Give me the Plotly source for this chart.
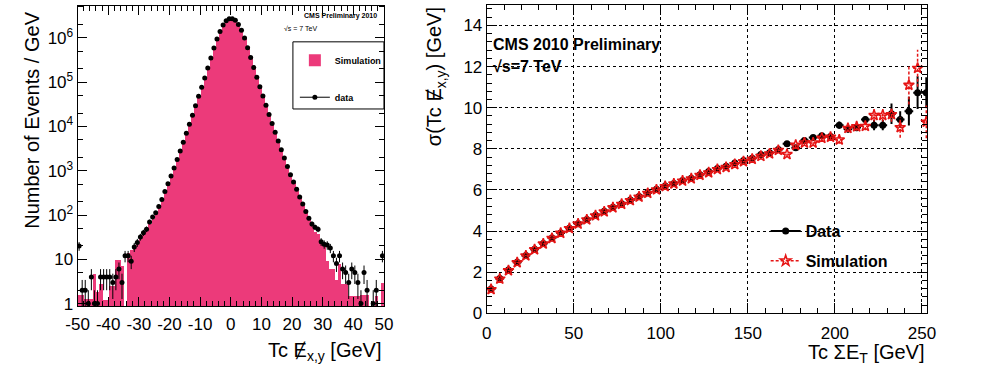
import math
import plotly.graph_objects as go

# ---------------- Left panel: Tc MET_x,y distribution (1 GeV bins) ----------------
met_bins = [-49.5 + i for i in range(100)]

data_counts = [
    20, 2, 2, 1, 4, 1, 1, 4, 4, 4,
    4, 3, 4, 6, 3, 12, 12, 9, 19, 24,
    32, 40, 48, 70, 90, 112, 155, 225, 340, 510,
    760, 1150, 1800, 2800, 4400, 7000, 11200, 18000, 29500, 48000,
    77000, 125000, 210000, 350000, 590000, 950000, 1400000, 1950000, 2450000, 2700000,
    2700000, 2500000, 2000000, 1500000, 1000000, 600000, 360000, 215000, 130000, 79000,
    49000, 30000, 18600, 11700, 7400, 4700, 3000, 1950, 1250, 810,
    560, 380, 257, 178, 120, 85, 63, 53, 48, 25,
    22, 21, 18, 12, 8, 12, 6, 5, 3, 6,
    5, 3, 1, 5, 2, 0, 1, 2, 0, 12,
]

sim_counts = [
    1.6, 1.6, 1.3, 1.3, 1.3, 4.6, 1.8, 2.8, 1.2, 1.2,
    2.5, 2.5, 9.5, 9.5, 7, 0, 14, 16, 20, 25,
    30, 37, 46, 62, 82, 105, 145, 210, 320, 480,
    730, 1100, 1750, 2750, 4300, 6900, 11000, 17800, 29000, 47500,
    76000, 124000, 208000, 348000, 585000, 945000, 1390000, 1940000, 2440000, 2690000,
    2690000, 2490000, 1990000, 1490000, 995000, 597000, 357000, 213000, 128000, 78000,
    48500, 29600, 18300, 11500, 7250, 4600, 2920, 1880, 1200, 770,
    530, 355, 240, 165, 112, 80, 58, 42, 38, 26,
    24, 9, 6, 6, 3.5, 8, 2.8, 2.8, 1.5, 1.5,
    1.5, 1.5, 1.6, 1.6, 1.6, 0, 0, 1.5, 0, 3,
]

met_ticks = [-50, -40, -30, -20, -10, 0, 10, 20, 30, 40, 50]
met_tick_text = ["-50", "-40", "-30", "-20", "-10", "0", "10", "20", "30", "40", "50"]
count_ticks = [1, 10, 100, 1000, 10000, 100000, 1000000]
count_tick_text = ["1", "10", "10<sup>2</sup>", "10<sup>3</sup>", "10<sup>4</sup>",
                   "10<sup>5</sup>", "10<sup>6</sup>"]

# ---------------- Right panel: resolution vs Tc SumET (5 GeV bins) ----------------
sumet_bins = [2.5 + 5 * i for i in range(51)]

data_sigma = [
    1.18, 1.69, 2.10, 2.48, 2.81, 3.11, 3.39, 3.66, 3.91, 4.14,
    4.36, 4.56, 4.77, 4.96, 5.16, 5.33, 5.51, 5.68, 5.86, 6.03,
    6.19, 6.31, 6.46, 6.57, 6.74, 6.90, 7.04, 7.15, 7.31, 7.43,
    7.54, 7.72, 7.81, 7.97, 8.24, 8.05, 8.40, 8.55, 8.63, 8.60,
    9.15, 8.96, 9.03, 9.42, 9.15, 9.15, 9.70, 9.42, 9.83, 10.73,
    10.73,
]
data_sigma_err = [
    0.04, 0.04, 0.04, 0.04, 0.04, 0.04, 0.04, 0.04, 0.04, 0.04,
    0.04, 0.04, 0.04, 0.04, 0.04, 0.04, 0.04, 0.04, 0.04, 0.04,
    0.04, 0.04, 0.04, 0.04, 0.04, 0.04, 0.04, 0.04, 0.04, 0.04,
    0.06, 0.06, 0.06, 0.06, 0.10, 0.10, 0.10, 0.10, 0.10, 0.10,
    0.18, 0.18, 0.18, 0.18, 0.25, 0.25, 0.50, 0.40, 0.70, 0.80,
    0.75,
]

sim_sigma = [
    1.16, 1.67, 2.08, 2.47, 2.80, 3.10, 3.38, 3.65, 3.90, 4.13,
    4.35, 4.55, 4.75, 4.94, 5.14, 5.31, 5.49, 5.66, 5.84, 6.01,
    6.17, 6.30, 6.44, 6.55, 6.72, 6.84, 7.00, 7.10, 7.24, 7.38,
    7.50, 7.64, 7.76, 7.93, 7.73, 8.18, 8.29, 8.29, 8.52, 8.57,
    8.44, 9.00, 9.08, 9.10, 9.63, 9.63, 9.67, 9.04, 11.10, 11.92,
    9.31,
]
sim_sigma_err = [
    0.03, 0.03, 0.03, 0.03, 0.03, 0.03, 0.03, 0.03, 0.03, 0.03,
    0.03, 0.03, 0.03, 0.03, 0.03, 0.03, 0.03, 0.03, 0.03, 0.03,
    0.03, 0.03, 0.03, 0.03, 0.03, 0.03, 0.03, 0.03, 0.03, 0.03,
    0.05, 0.05, 0.05, 0.05, 0.12, 0.12, 0.12, 0.12, 0.12, 0.12,
    0.20, 0.20, 0.20, 0.20, 0.30, 0.30, 0.35, 0.50, 0.95, 0.90,
    0.80,
]
SUMET_HALF_BIN = 2.5

FONT = "Liberation Sans, Arial, Helvetica, sans-serif"
PINK = "rgb(236,58,122)"
RED = "rgb(230,20,20)"
MET = "\u0246"  # E with stroke, stands in for the slashed E of missing ET

fig = go.Figure()

# simulation histogram
fig.add_trace(go.Bar(
    x=met_bins, y=[v if v > 0 else None for v in sim_counts], width=1.0,
    marker=dict(color=PINK, line=dict(width=0)),
    name="Simulation", legend="legend", legendgroup="sim", xaxis="x", yaxis="y",
))

# data points with Poisson errors
d_y = [n if n > 0 else None for n in data_counts]
d_up = [math.sqrt(n) if n > 0 else 0 for n in data_counts]
d_dn = [min(math.sqrt(n), n - 0.3) if n > 0 else 0 for n in data_counts]
fig.add_trace(go.Scatter(
    x=met_bins, y=d_y, mode="markers",
    marker=dict(color="black", size=5),
    error_y=dict(type="data", array=d_up, arrayminus=d_dn, color="black", thickness=1, width=0),
    error_x=dict(type="constant", value=0.5, color="black", thickness=1, width=0),
    showlegend=False, xaxis="x", yaxis="y",
))
fig.add_trace(go.Scatter(
    x=[None], y=[None], mode="lines+markers", name="data",
    line=dict(color="black", width=1), marker=dict(color="black", size=5),
    legend="legend", legendgroup="dat", xaxis="x", yaxis="y",
))

# right panel: data
fig.add_trace(go.Scatter(
    x=sumet_bins, y=data_sigma, mode="markers",
    marker=dict(color="black", size=7, symbol="circle"),
    error_y=dict(type="data", array=data_sigma_err, color="black", thickness=2, width=0),
    error_x=dict(type="constant", value=SUMET_HALF_BIN, color="black", thickness=2, width=0),
    showlegend=False, xaxis="x2", yaxis="y2",
))

# right panel: simulation error bars drawn dashed
seg_x, seg_y = [], []
for xc, yc, e in zip(sumet_bins, sim_sigma, sim_sigma_err):
    seg_x += [xc, xc, None, xc - SUMET_HALF_BIN, xc + SUMET_HALF_BIN, None]
    seg_y += [yc - e, yc + e, None, yc, yc, None]
fig.add_trace(go.Scatter(
    x=seg_x, y=seg_y, mode="lines", line=dict(color=RED, width=1.5, dash="3px,2px"),
    hoverinfo="skip", showlegend=False, xaxis="x2", yaxis="y2",
))
fig.add_trace(go.Scatter(
    x=sumet_bins, y=sim_sigma, mode="markers",
    marker=dict(color=RED, size=8, symbol="star-open", line=dict(width=1.5, color=RED)),
    showlegend=False, xaxis="x2", yaxis="y2",
))

# legend entries for right panel
fig.add_trace(go.Scatter(
    x=[None], y=[None], mode="lines+markers", name="Data",
    line=dict(color="black", width=2), marker=dict(color="black", size=7),
    legend="legend2", xaxis="x2", yaxis="y2", legendgroup="d",
))
fig.add_trace(go.Scatter(
    x=[None], y=[None], mode="lines+markers", name="Simulation",
    line=dict(color=RED, width=1.5, dash="3px,2px"),
    marker=dict(color=RED, size=8, symbol="star-open", line=dict(width=1.5, color=RED)),
    legend="legend2", xaxis="x2", yaxis="y2", legendgroup="s",
))

W, H = 990, 370


def px_x(p):
    return p / W


def px_y(p):
    return (H - p) / H


axis_common = dict(
    showline=True, linecolor="black", linewidth=1, mirror="allticks",
    ticks="inside", tickcolor="black", zeroline=False,
    tickfont=dict(family=FONT, size=17, color="black"),
)

fig.update_layout(
    width=W, height=H,
    margin=dict(l=0, r=0, t=0, b=0),
    paper_bgcolor="white", plot_bgcolor="white",
    font=dict(family=FONT, color="black"),
    bargap=0,
    xaxis=dict(
        domain=[px_x(67), px_x(380)], range=[-50, 50], anchor="y",
        tickvals=met_ticks, ticktext=met_tick_text, ticklen=9, ticklabelstandoff=2,
        minor=dict(ticks="inside", dtick=2, ticklen=5, tickcolor="black"),
        showgrid=False, **axis_common,
    ),
    yaxis=dict(
        domain=[px_y(315), px_y(6)], type="log", range=[-0.066, 6.725], anchor="x",
        tickvals=count_ticks, ticktext=count_tick_text, ticklen=9,
        minor=dict(ticks="inside", ticklen=5, tickcolor="black"),
        showgrid=False, **axis_common,
    ),
    xaxis2=dict(
        domain=[px_x(485), px_x(935)], range=[0, 253], anchor="y2",
        dtick=50, tick0=0, ticklen=10, ticklabelstandoff=4,
        minor=dict(ticks="inside", dtick=10, ticklen=5, tickcolor="black"),
        showgrid=True, gridcolor="black", gridwidth=1, griddash="dot",
        **axis_common,
    ),
    yaxis2=dict(
        domain=[px_y(322), px_y(5)], range=[0, 15], anchor="x2",
        dtick=2, tick0=0, ticklen=10,
        minor=dict(ticks="inside", dtick=0.4, ticklen=5, tickcolor="black"),
        showgrid=True, gridcolor="black", gridwidth=1, griddash="dot",
        **axis_common,
    ),
    legend=dict(
        x=px_x(289), y=px_y(47), xanchor="left", yanchor="top",
        bgcolor="rgba(0,0,0,0)", borderwidth=0,
        font=dict(family=FONT, size=9, color="black", weight="bold"),
        itemwidth=30, tracegroupgap=18,
    ),
    legend2=dict(
        x=px_x(770), y=px_y(220), xanchor="left", yanchor="top",
        bgcolor="rgba(0,0,0,0)", borderwidth=0,
        font=dict(family=FONT, size=16, color="black", weight="bold"),
        itemwidth=30, tracegroupgap=6,
    ),
    showlegend=True,
)

# legend frame on left panel
fig.add_shape(type="rect", xref="paper", yref="paper",
              x0=px_x(287), x1=px_x(380), y0=px_y(112), y1=px_y(43),
              line=dict(color="black", width=1), fillcolor="rgba(0,0,0,0)")

ann = []
ann.append(dict(text="<b>CMS Preliminary 2010</b>", x=px_x(336), y=px_y(16),
                xanchor="center", yanchor="middle", font=dict(size=7)))
ann.append(dict(text="√s = 7 TeV", x=px_x(276), y=px_y(29),
                xanchor="left", yanchor="middle", font=dict(size=7)))
ann.append(dict(text="<b>CMS 2010 Preliminary</b>", x=px_x(489), y=px_y(46),
                xanchor="left", yanchor="middle", font=dict(size=16)))
ann.append(dict(text="<b>√s=7 TeV</b>", x=px_x(489), y=px_y(68),
                xanchor="left", yanchor="middle", font=dict(size=16)))
# axis titles
ann.append(dict(text="Number of Events / GeV", x=px_x(21), y=px_y(10),
                xanchor="center", yanchor="top", textangle=-90, font=dict(size=20)))
ann.append(dict(text="Tc " + MET + "<sub>x,y</sub> [GeV]", x=px_x(380), y=px_y(346),
                xanchor="right", yanchor="top", font=dict(size=20)))
ann.append(dict(text="Tc ΣE<sub>T</sub> [GeV]", x=px_x(935), y=px_y(348),
                xanchor="right", yanchor="top", font=dict(size=20)))
ann.append(dict(text="σ(Tc " + MET + "<sub>x,y</sub>) [GeV]", x=px_x(433), y=px_y(5),
                xanchor="center", yanchor="top", textangle=-90, font=dict(size=20)))

for a in ann:
    a.update(xref="paper", yref="paper", showarrow=False)
    a["font"] = dict(family=FONT, color="black", **a["font"])
fig.update_layout(annotations=ann)

fig.write_html("out.html")
